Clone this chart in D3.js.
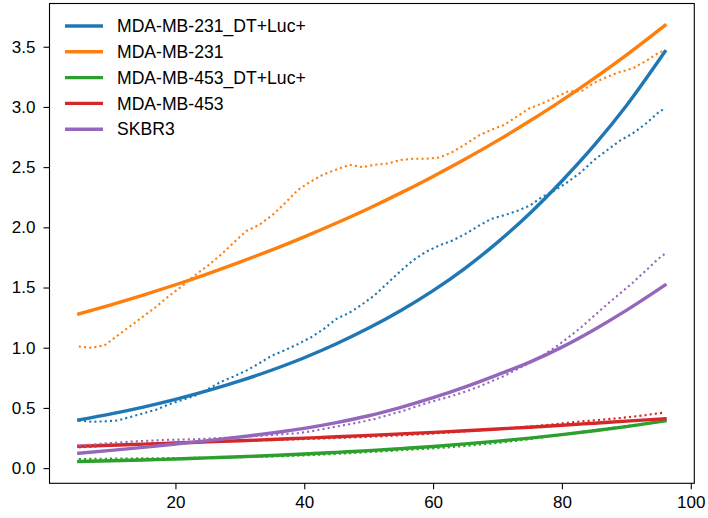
<!DOCTYPE html>
<html><head><meta charset="utf-8">
<script src="https://cdn.jsdelivr.net/npm/d3@7"></script>
<style>
body{margin:0;background:#fff}
svg{display:block}
text{font-family:"Liberation Sans",Arial,Helvetica,sans-serif}
</style>
</head><body>
<svg id="chart" width="708" height="518"></svg>
<script>
// ---------- data ----------
const seriesNames = ["MDA-MB-231_DT+Luc+", "MDA-MB-231", "MDA-MB-453_DT+Luc+", "MDA-MB-453", "SKBR3"];
const palette = ["#1f77b4", "#ff7f0e", "#2ca02c", "#d62728", "#9467bd"];

// fitted curves (solid)
const xFit = [5,10,15,20,25,30,35,40,45,50,55,60,65,70,75,80,85,90,96];
const fit231DT = [0.400,0.450,0.507,0.571,0.643,0.724,0.815,0.917,1.033,1.163,1.309,1.474,1.662,1.875,2.115,2.385,2.68,3.01,3.46];
const fit231   = [1.280,1.356,1.437,1.523,1.614,1.711,1.813,1.921,2.036,2.157,2.286,2.423,2.567,2.720,2.883,3.055,3.238,3.431,3.678];
const fit453DT = [0.055,0.061,0.068,0.076,0.085,0.094,0.105,0.117,0.131,0.145,0.162,0.180,0.201,0.224,0.249,0.278,0.310,0.345,0.392];
const fit453   = [0.182,0.190,0.199,0.208,0.218,0.227,0.238,0.249,0.260,0.272,0.284,0.297,0.310,0.325,0.340,0.356,0.373,0.390,0.410];
const fitSKBR3 = [0.124,0.147,0.172,0.200,0.228,0.258,0.292,0.330,0.378,0.435,0.505,0.585,0.675,0.775,0.880,1.005,1.150,1.310,1.520];

// measured data (dotted)
const xObs = [5,7,9,11,13,15,17,19,21,23,25,27,29,31,33,35,37,39,41,43,45,47,49,51,53,55,57,59,61,63,65,67,69,71,73,75,77,79,81,83,85,87,89,91,93,95,96];
const obs231DT = [0.395,0.385,0.388,0.395,0.425,0.455,0.485,0.530,0.565,0.600,0.655,0.715,0.760,0.810,0.870,0.935,0.980,1.030,1.085,1.155,1.240,1.290,1.360,1.440,1.540,1.640,1.730,1.800,1.850,1.890,1.945,2.010,2.070,2.100,2.135,2.180,2.255,2.310,2.380,2.460,2.560,2.640,2.720,2.780,2.860,2.955,2.990];
const obs231   = [1.010,1.000,1.020,1.100,1.180,1.260,1.340,1.430,1.510,1.600,1.680,1.770,1.870,1.970,2.020,2.100,2.200,2.310,2.380,2.440,2.480,2.520,2.500,2.520,2.530,2.560,2.570,2.570,2.580,2.625,2.690,2.760,2.810,2.850,2.920,2.990,3.030,3.080,3.130,3.130,3.200,3.250,3.290,3.320,3.380,3.450,3.470];
const obs453DT = [0.075,0.077,0.078,0.079,0.080,0.081,0.082,0.083,0.084,0.085,0.086,0.088,0.090,0.092,0.094,0.097,0.100,0.104,0.108,0.113,0.118,0.124,0.130,0.136,0.142,0.149,0.155,0.161,0.167,0.175,0.184,0.194,0.204,0.215,0.228,0.241,0.255,0.270,0.285,0.300,0.315,0.330,0.343,0.355,0.368,0.385,0.390];
const obs453   = [0.172,0.178,0.185,0.190,0.195,0.200,0.205,0.208,0.212,0.215,0.218,0.221,0.224,0.227,0.230,0.233,0.236,0.240,0.243,0.247,0.250,0.254,0.258,0.262,0.267,0.272,0.278,0.284,0.290,0.297,0.305,0.313,0.322,0.330,0.338,0.346,0.355,0.366,0.377,0.388,0.397,0.406,0.416,0.428,0.440,0.455,0.462];
const obsSKBR3 = [0.185,0.195,0.205,0.212,0.220,0.225,0.230,0.235,0.237,0.240,0.245,0.250,0.255,0.262,0.268,0.275,0.283,0.290,0.305,0.325,0.345,0.365,0.385,0.410,0.440,0.470,0.505,0.540,0.570,0.600,0.635,0.675,0.720,0.765,0.820,0.875,0.935,1.005,1.085,1.170,1.265,1.360,1.450,1.540,1.640,1.740,1.780];

const xTicks = [20, 40, 60, 80, 100];
const yTicks = [0.0, 0.5, 1.0, 1.5, 2.0, 2.5, 3.0, 3.5];

const fits = [fit231DT, fit231, fit453DT, fit453, fitSKBR3];
const obs  = [obs231DT, obs231, obs453DT, obs453, obsSKBR3];

// ---------- layout ----------
const svg = d3.select("#chart");
const L = 49.5, R = 694.3, T = 3.5, B = 483.3;

const allX = xFit.concat(xObs);
const allY = fits.flat().concat(obs.flat());
const [x0, x1] = d3.extent(allX);
const [y0, y1] = d3.extent(allY);
const px = (x1 - x0) * 0.05, py = (y1 - y0) * 0.05;

const x = d3.scaleLinear().domain([x0 - px, x1 + px]).range([L, R]);
const y = d3.scaleLinear().domain([y0 - py, y1 + py]).range([B, T]);

const plot = svg.append("g");
const clipId = "clipArea";
svg.append("clipPath").attr("id", clipId)
  .append("rect").attr("x", L).attr("y", T).attr("width", R - L).attr("height", B - T);

const lineGen = d3.line().x(d => x(d[0])).y(d => y(d[1]));
const smoothGen = d3.line().x(d => x(d[0])).y(d => y(d[1])).curve(d3.curveMonotoneX);

fits.forEach((f, i) => {
  const od = xObs.map((xv, j) => [xv, obs[i][j]]);
  plot.append("path").datum(od)
    .attr("d", lineGen)
    .attr("fill", "none")
    .attr("stroke", palette[i])
    .attr("stroke-width", 2.1)
    .attr("stroke-dasharray", "2.1,3.1")
    .attr("clip-path", `url(#${clipId})`);
  const fd = xFit.map((xv, j) => [xv, f[j]]);
  plot.append("path").datum(fd)
    .attr("d", smoothGen)
    .attr("fill", "none")
    .attr("stroke", palette[i])
    .attr("stroke-width", 3.4)
    .attr("stroke-linecap", "square")
    .attr("clip-path", `url(#${clipId})`);
});

// ---------- axes ----------
const xAxis = svg.append("g").attr("transform", `translate(0,${B})`)
  .call(d3.axisBottom(x).tickValues(xTicks).tickSize(6).tickPadding(7).tickFormat(d3.format("d")));
const yAxis = svg.append("g").attr("transform", `translate(${L},0)`)
  .call(d3.axisLeft(y).tickValues(yTicks).tickSize(6).tickPadding(8).tickFormat(d3.format(".1f")));
[xAxis, yAxis].forEach(a => {
  a.select(".domain").remove();
  a.selectAll(".tick line").attr("stroke", "#000").attr("stroke-width", 1.1);
  a.selectAll(".tick text").attr("fill", "#000").style("font-size", "17px")
    .style("font-family", '"Liberation Sans", Arial, sans-serif');
});

svg.append("rect").attr("x", L).attr("y", T).attr("width", R - L).attr("height", B - T)
  .attr("fill", "none").attr("stroke", "#000").attr("stroke-width", 1.1);

// ---------- legend ----------
const legend = svg.append("g");
seriesNames.forEach((name, i) => {
  const ly = 26 + i * 25.8;
  legend.append("line").attr("x1", 65).attr("x2", 103).attr("y1", ly).attr("y2", ly)
    .attr("stroke", palette[i]).attr("stroke-width", 3.4);
  legend.append("text").attr("x", 117).attr("y", ly).attr("dy", "0.35em")
    .style("font-size", "17.6px").attr("fill", "#000").text(name);
});
</script>
</body></html>
